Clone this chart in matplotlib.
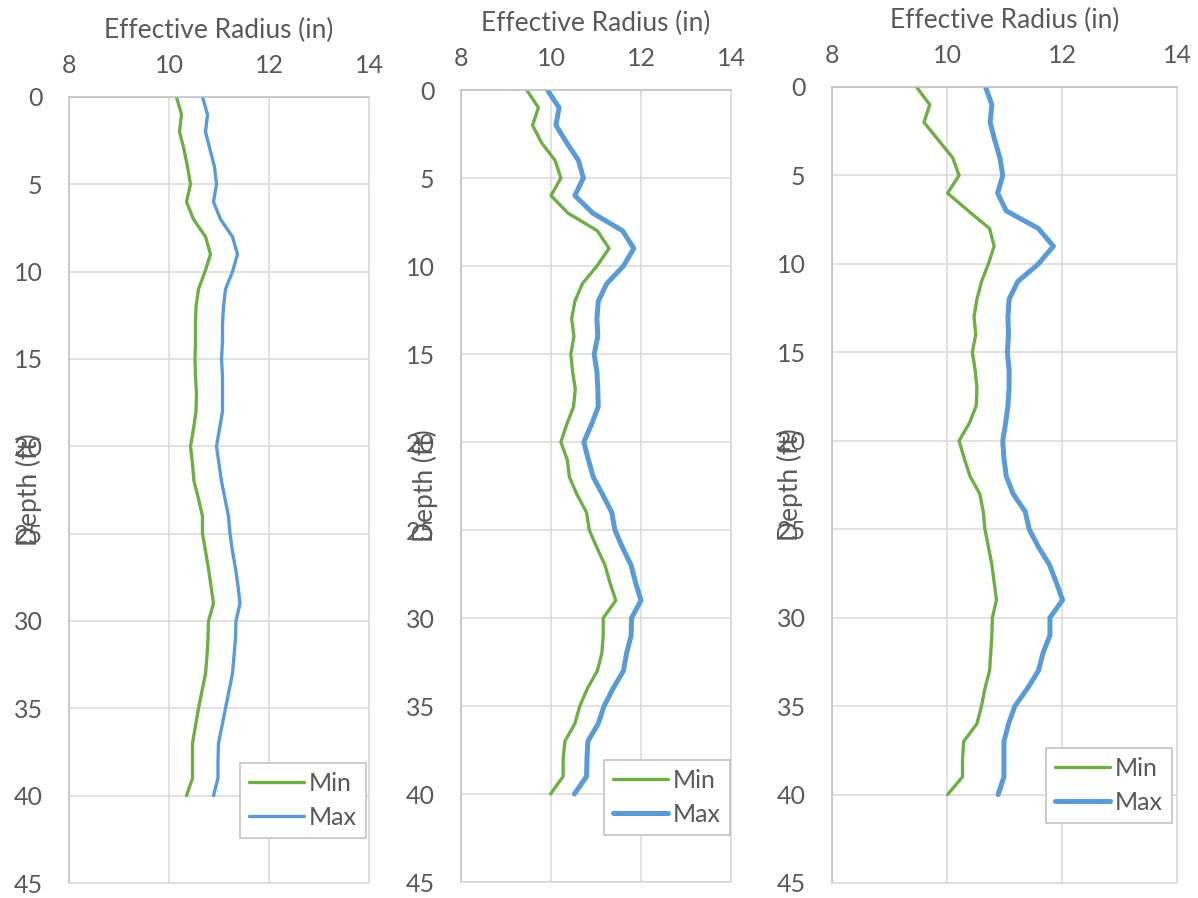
import matplotlib
matplotlib.use("Agg")
import matplotlib.pyplot as plt
import numpy as np

plt.rcParams['font.family'] = ['Lato', 'DejaVu Sans']

depth = list(range(0, 41))

p1_min = [10.15, 10.25, 10.21, 10.30, 10.37, 10.43, 10.35, 10.49, 10.73, 10.83,
          10.72, 10.59, 10.54, 10.53, 10.53, 10.52, 10.53, 10.55, 10.54, 10.49,
          10.43, 10.47, 10.50, 10.59, 10.67, 10.67, 10.73, 10.79, 10.84, 10.89,
          10.79, 10.78, 10.76, 10.73, 10.66, 10.59, 10.53, 10.47, 10.47, 10.47,
          10.35]
p1_max = [10.67, 10.77, 10.73, 10.82, 10.91, 10.95, 10.89, 11.03, 11.27, 11.37,
          11.27, 11.13, 11.09, 11.07, 11.07, 11.05, 11.07, 11.07, 11.07, 11.01,
          10.95, 11.00, 11.05, 11.12, 11.19, 11.22, 11.27, 11.33, 11.38, 11.42,
          11.34, 11.33, 11.30, 11.27, 11.20, 11.13, 11.06, 10.99, 10.98, 10.98,
          10.89]

p2_min = [9.46, 9.72, 9.59, 9.79, 10.09, 10.22, 10.00, 10.38, 11.03, 11.29,
          11.02, 10.70, 10.53, 10.46, 10.51, 10.44, 10.48, 10.54, 10.50, 10.35,
          10.22, 10.36, 10.41, 10.58, 10.79, 10.85, 11.02, 11.20, 11.31, 11.44,
          11.16, 11.16, 11.13, 11.03, 10.81, 10.64, 10.53, 10.31, 10.27, 10.27,
          9.99]
p2_max = [9.92, 10.18, 10.11, 10.35, 10.61, 10.72, 10.53, 10.93, 11.59, 11.84,
          11.61, 11.24, 11.05, 11.02, 11.04, 10.96, 11.02, 11.04, 11.05, 10.90,
          10.73, 10.83, 10.94, 11.15, 11.35, 11.42, 11.59, 11.78, 11.88, 12.00,
          11.79, 11.78, 11.68, 11.61, 11.38, 11.18, 11.05, 10.82, 10.80, 10.79,
          10.52]

p3_min = [9.47, 9.70, 9.60, 9.85, 10.10, 10.21, 10.01, 10.37, 10.74, 10.82,
          10.72, 10.60, 10.52, 10.47, 10.50, 10.44, 10.49, 10.52, 10.51, 10.39,
          10.21, 10.30, 10.40, 10.57, 10.63, 10.66, 10.72, 10.78, 10.82, 10.86,
          10.79, 10.78, 10.76, 10.74, 10.66, 10.60, 10.52, 10.29, 10.27, 10.27,
          10.01]
p3_max = [10.67, 10.78, 10.75, 10.83, 10.92, 10.97, 10.88, 11.03, 11.59, 11.85,
          11.59, 11.23, 11.08, 11.06, 11.07, 11.05, 11.08, 11.08, 11.06, 11.02,
          10.97, 10.99, 11.03, 11.15, 11.36, 11.43, 11.59, 11.78, 11.90, 12.01,
          11.79, 11.79, 11.67, 11.59, 11.40, 11.18, 11.07, 10.99, 10.99, 10.99,
          10.89]

x_ticks = [8, 10, 12, 14]
y_ticks = [0, 5, 10, 15, 20, 25, 30, 35, 40, 45]
series_names = ["Min", "Max"]
x_title = "Effective Radius (in)"
y_title = "Depth (ft)"

GREEN = "#70AD47"
BLUE = "#5B9BD5"
TXT = "#595959"
GRID = "#D9D9D9"
AXIS = "#BFBFBF"

W, H = 1198, 898
fig = plt.figure(figsize=(W / 100, H / 100), dpi=100)

panels = [
    dict(box=(69, 97, 369, 883), mn=p1_min, mx=p1_max, lw=(2.4, 2.4),
         leg=(240, 763), ylab_x=29),
    dict(box=(461, 90, 731, 882), mn=p2_min, mx=p2_max, lw=(2.4, 3.6),
         leg=(604, 760), ylab_x=425),
    dict(box=(832, 87, 1177, 883), mn=p3_min, mx=p3_max, lw=(2.4, 3.6),
         leg=(1046, 748), ylab_x=790),
]

FS_TICK = 18
FS_TITLE = 19

for p in panels:
    l, t, r, b = p['box']
    ax = fig.add_axes([l / W, (H - b) / H, (r - l) / W, (b - t) / H])
    ax.plot(p['mn'], depth, color=GREEN, lw=p['lw'][0], label=series_names[0],
            solid_joinstyle='round', solid_capstyle='round')
    ax.plot(p['mx'], depth, color=BLUE, lw=p['lw'][1], label=series_names[1],
            solid_joinstyle='round', solid_capstyle='round')
    ax.set_xlim(8, 14)
    ax.set_ylim(45, 0)
    ax.set_xticks(x_ticks)
    ax.set_yticks(y_ticks)
    ax.xaxis.tick_top()
    ax.tick_params(axis='both', length=0, labelsize=FS_TICK, labelcolor=TXT)
    ax.tick_params(axis='x', pad=14.5)
    ax.tick_params(axis='y', pad=19)
    ax.grid(True, color=GRID, lw=1.1)
    ax.set_axisbelow(True)
    for s in ['right', 'bottom']:
        ax.spines[s].set_color(GRID)
        ax.spines[s].set_linewidth(1.1)
    for s in ['left', 'top']:
        ax.spines[s].set_color(AXIS)
        ax.spines[s].set_linewidth(1.1)
    ax.set_xlabel(x_title, fontsize=FS_TITLE, color=TXT)
    ax.xaxis.set_label_position('top')
    ax.xaxis.set_label_coords(0.5, 1 + 67 / (b - t))
    ax.xaxis.label.set_va('center')
    ax.set_ylabel(y_title, fontsize=FS_TITLE, color=TXT)
    ax.yaxis.set_label_coords((p['ylab_x'] - l) / (r - l), 0.5)
    ax.yaxis.label.set_va('center')
    lx, ly = p['leg']
    leg = ax.legend(loc='upper left', bbox_to_anchor=(lx / W, (H - ly) / H),
                    bbox_transform=fig.transFigure, fontsize=FS_TICK, frameon=True,
                    fancybox=False, edgecolor=AXIS, framealpha=1,
                    handlelength=2.2, handletextpad=0.2, borderpad=0.35,
                    labelspacing=0.45, borderaxespad=0)
    for txt in leg.get_texts():
        txt.set_color(TXT)
    leg.get_frame().set_linewidth(1.1)

fig.savefig("out.png", dpi=100)
